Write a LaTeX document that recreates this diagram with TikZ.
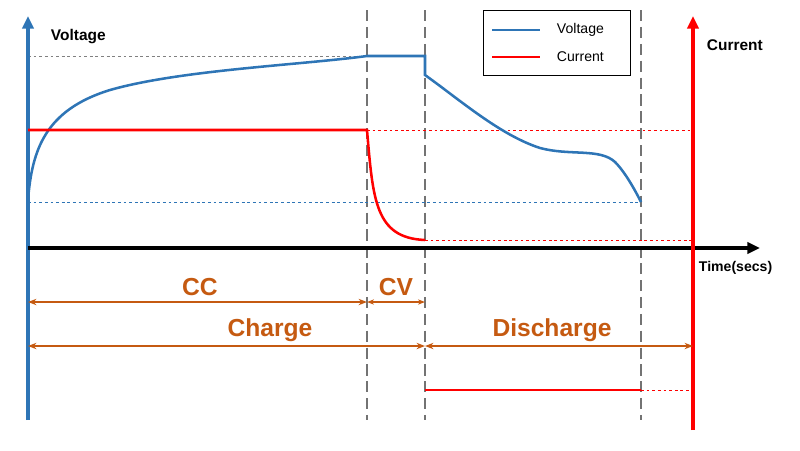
\documentclass[tikz,border=0pt]{standalone}
\usepackage{fontspec}
\setmainfont{Liberation Sans}
\usetikzlibrary{arrows.meta}
\definecolor{vb}{RGB}{46,117,182}
\definecolor{cr}{RGB}{255,0,0}
\definecolor{og}{RGB}{197,90,17}
\begin{document}
\begin{tikzpicture}[x=0.025cm,y=-0.025cm,
 gdash/.style={black!55,line width=1.8pt,dash pattern=on 8pt off 4pt},
 thind/.style={dash pattern=on 2pt off 2pt,line width=0.5pt},
 oarr/.style={og,line width=1.3pt,{Stealth[length=6pt]}-{Stealth[length=6pt]}},
 olab/.style={og,font=\bfseries\fontsize{17.5}{17.5}\selectfont},
 lab/.style={font=\bfseries\fontsize{11}{11}\selectfont,anchor=west}]
\useasboundingbox (0,0) rectangle (800,450);
% dashed verticals
\foreach \x in {367,425,641} \draw[gdash] (\x,10) -- (\x,420);
% thin guides
\draw[thind,gray] (28,56) -- (367,56);
\draw[thind,vb] (28,202) -- (641,202);
\draw[thind,cr] (367,130) -- (693,130);
\draw[thind,cr] (425,240) -- (693,240);
\draw[thind,cr] (641,390) -- (693,390);
% axes
\coordinate (vb0) at (28,420); \coordinate (vt) at (28,16);
\draw[vb,line width=2.5pt,-{Triangle[length=9pt,width=8pt]}] (vb0) -- (vt);
\coordinate (t0) at (28,248); \coordinate (t1) at (760,248);
\draw[black,line width=2.5pt,-{Triangle[length=9pt,width=8pt]}] (t0) -- (t1);
\coordinate (cb0) at (693,430); \coordinate (ct) at (693,16);
\draw[cr,line width=2.5pt,-{Triangle[length=9pt,width=8pt]}] (cb0) -- (ct);
\node[lab] (vl) at (46,37) {Voltage};
\node[lab] (cl) at (702,45) {Current};
\node[lab,font=\bfseries\fontsize{10}{10}\selectfont] (tl) at (694,268) {Time(secs)};
% voltage curve
\draw[vb,line width=1.8pt] (28,200) .. controls (32,150) and (45,110) .. (110,90)
 .. controls (180,70) and (300,65) .. (367,56) -- (425,56) -- (425,75)
 .. controls (460,100) and (500,135) .. (540,148)
 .. controls (570,156) and (600,148) .. (615,162)
 .. controls (625,172) and (635,190) .. (641,202);
% current
\draw[cr,line width=1.8pt] (28,130) -- (367,130) .. controls (373,200) and (375,238) .. (425,240);
\draw[cr,line width=1.8pt] (425,390) -- (641,390);
% orange arrows
\coordinate (a0) at (28,302); \coordinate (a1) at (367,302); \coordinate (a2) at (425,302);
\draw[oarr] (a0) -- (a1);
\draw[og,line width=0.8pt,{Stealth[length=5pt]}-{Stealth[length=5pt]}] (a1) -- (a2);
\coordinate (b0) at (28,346); \coordinate (b1) at (425,346); \coordinate (b2) at (693,346);
\draw[oarr] (b0) -- (b1);
\draw[oarr] (b1) -- (b2);
\node[olab] (cc) at (200,287) {CC};
\node[olab] (cv) at (396,287) {CV};
\node[olab] (ch) at (270,330) {Charge};
\node[olab] (dc) at (552,330) {Discharge};
% legend
\draw[black,line width=0.6pt,fill=white] (483,10) rectangle (630,75);
\draw[vb,line width=1.8pt] (492,30) -- (540,30);
\draw[cr,line width=1.8pt] (492,57) -- (540,57);
\node[anchor=west,font=\fontsize{10}{10}\selectfont] (lv) at (552,30) {Voltage};
\node[anchor=west,font=\fontsize{10}{10}\selectfont] (lc) at (552,57) {Current};
\end{tikzpicture}
\end{document}
